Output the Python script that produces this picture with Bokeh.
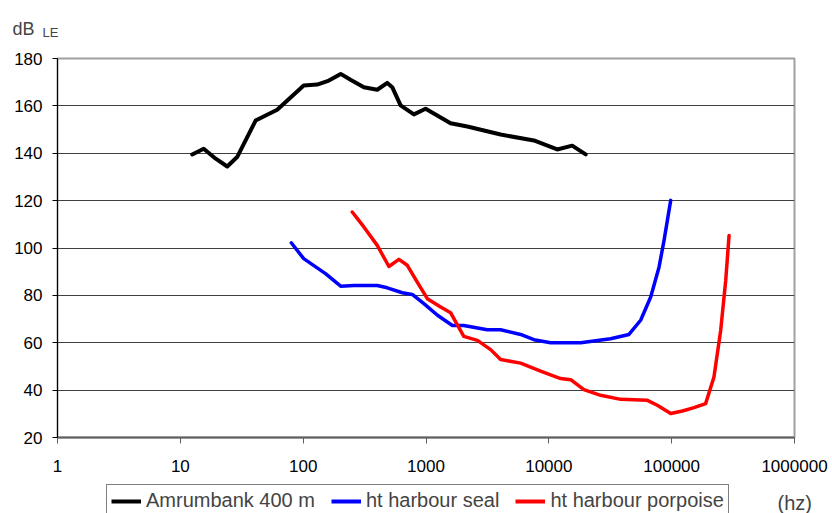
from bokeh.plotting import figure
from bokeh.layouts import column
from bokeh.models import FixedTicker, Legend, LegendItem, Label, Range1d
from bokeh.embed import file_html
from bokeh.resources import INLINE

# --- data ---
amrum_hz = [12.5, 15.5, 19.4, 24.1, 29, 41, 61.5, 101, 130, 162, 202, 243, 312, 401, 484, 531,
            621, 797, 993, 1585, 2170, 4050, 7560, 11700, 15500, 19950]
amrum_db = [139.5, 141.9, 137.7, 134.4, 138.4, 153.8, 158.4, 168.6, 169, 170.7, 173.5, 171, 167.9,
            166.8, 169.7, 167.9, 160.2, 156.4, 158.8, 152.7, 151.3, 147.9, 145.4, 141.6, 143.2, 139.5]

seal_hz = [80, 101, 152, 202, 259, 401, 484, 641, 773, 961, 1240, 1640, 2030, 3150, 4050, 5890,
           7560, 10350, 18200, 31800, 44900, 55900, 67500, 78900, 86700, 98200]
seal_db = [102.2, 95.5, 89.2, 83.9, 84.2, 84.2, 83.2, 81.1, 80.4, 76.5, 71.6, 67.3, 67.3, 65.5,
           65.5, 63.5, 61.3, 60.0, 60.0, 61.7, 63.5, 69.5, 79.3, 91.9, 103.2, 120.1]

porp_hz = [251, 313, 401, 499, 602, 704, 849, 1025, 1316, 1585, 2030, 2620, 3360, 4050, 5890,
           8570, 12470, 15060, 19300, 26400, 38500, 63400, 76400, 98200, 122300, 152000, 189000,
           221000, 250600, 275400, 293300]
porp_db = [115.2, 108.8, 101.1, 92.2, 95.2, 92.7, 85.6, 78.6, 75.1, 72.7, 62.7, 61.0, 57.1, 52.9,
           51.4, 48.0, 44.9, 44.4, 40.2, 37.8, 36.1, 35.7, 33.6, 30.1, 31.2, 32.6, 34.3, 45.5,
           65.2, 86.3, 105.3]

x_ticks = [1, 10, 100, 1000, 10000, 100000, 1000000]
x_tick_labels = ["1", "10", "100", "1000", "10000", "100000", "1000000"]
y_ticks = [20, 40, 60, 80, 100, 120, 140, 160, 180]

series_names = ["Amrumbank 400 m", "ht harbour seal", "ht harbour porpoise"]
colors = ["#000000", "#0000ff", "#ff0000"]
y_unit = ["dB", "LE"]
x_unit = "(hz)"

FONT = "Liberation Sans"
W = 832
HEAD_H, MAIN_H, FOOT_H = 40, 440, 33


def no_align(f):
    if "frame_align" in f.properties():
        f.frame_align = False
    return f


def strip(h):
    # text strip: the frame covers the whole canvas, y range below the data so series stay hidden
    f = figure(width=W, height=h, x_range=Range1d(1, 1000000), y_range=Range1d(-h, 0),
               x_axis_type="log", output_backend="svg", toolbar_location=None,
               x_axis_location=None, y_axis_location=None, min_border=0)
    f.min_border_left = 0
    f.min_border_right = 0
    f.min_border_top = 0
    f.min_border_bottom = 0
    f.outline_line_color = None
    f.xgrid.grid_line_color = None
    f.ygrid.grid_line_color = None
    return no_align(f)


# ---- head: y unit label ----
head = strip(HEAD_H)
head.add_layout(Label(x=12, y=HEAD_H - 28, x_units="screen", y_units="screen", text=y_unit[0],
                      text_font=FONT, text_font_size="18px", text_baseline="alphabetic"))
head.add_layout(Label(x=42, y=HEAD_H - 32, x_units="screen", y_units="screen", text=y_unit[1],
                      text_font=FONT, text_font_size="13px", text_baseline="alphabetic"))

# ---- main chart ----
p = figure(width=W, height=MAIN_H, x_axis_type="log",
           x_range=Range1d(1, 1000000), y_range=Range1d(20, 180),
           output_backend="svg", toolbar_location=None,
           min_border_left=57, min_border_right=38, min_border_top=18, min_border_bottom=43)
no_align(p)
p.background_fill_color = "white"
p.border_fill_color = "white"
p.outline_line_color = "#a0a0a0"
p.outline_line_width = 2

line_kw = dict(line_join="round", line_cap="round")
p.line(amrum_hz, amrum_db, line_color=colors[0], line_width=4, **line_kw)
p.line(seal_hz, seal_db, line_color=colors[1], line_width=3.5, **line_kw)
p.line(porp_hz, porp_db, line_color=colors[2], line_width=3.5, **line_kw)

p.xaxis.ticker = FixedTicker(ticks=x_ticks, minor_ticks=[])
p.xaxis.major_label_overrides = {t: l for t, l in zip(x_ticks, x_tick_labels)}
p.xaxis.axis_line_color = "#606060"
p.xaxis.axis_line_width = 2
p.xaxis.major_tick_line_color = "#606060"
p.xaxis.major_tick_out = 6
p.xaxis.major_tick_in = 0
p.xaxis.minor_tick_line_color = None
p.xaxis.major_label_standoff = 16
p.xaxis.major_label_text_font = FONT
p.xaxis.major_label_text_font_size = "17px"
p.xaxis.major_label_text_color = "black"

p.yaxis.ticker = FixedTicker(ticks=y_ticks, minor_ticks=[])
p.yaxis.axis_line_color = "black"
p.yaxis.major_tick_line_color = "black"
p.yaxis.major_tick_out = 5
p.yaxis.major_tick_in = 0
p.yaxis.minor_tick_line_color = None
p.yaxis.major_label_standoff = 10
p.yaxis.major_label_text_font = FONT
p.yaxis.major_label_text_font_size = "17px"
p.yaxis.major_label_text_color = "black"

p.xgrid.grid_line_color = None
p.ygrid.grid_line_color = "#404040"
p.ygrid.grid_line_width = 1

# ---- foot: legend + x unit ----
foot = strip(FOOT_H)
g1 = foot.line(amrum_hz, amrum_db, line_color=colors[0], line_width=4)
g2 = foot.line(seal_hz, seal_db, line_color=colors[1], line_width=4)
g3 = foot.line(porp_hz, porp_db, line_color=colors[2], line_width=4)
legend = Legend(items=[LegendItem(label=series_names[0], renderers=[g1]),
                       LegendItem(label=series_names[1], renderers=[g2]),
                       LegendItem(label=series_names[2], renderers=[g3])],
                orientation="horizontal", location=(106, -4),
                label_text_font=FONT, label_text_font_size="20px",
                glyph_width=30, glyph_height=20, label_height=20,
                label_standoff=5, spacing=16, padding=4, margin=0,
                border_line_color="black", border_line_width=1,
                background_fill_color="white", background_fill_alpha=1)
foot.add_layout(legend, "center")
foot.add_layout(Label(x=777, y=FOOT_H - 502 + 480, x_units="screen", y_units="screen", text=x_unit,
                      text_font=FONT, text_font_size="20px", text_baseline="middle"))

layout = column(head, p, foot, spacing=0)
open("out.html", "w").write(file_html(layout, INLINE))
